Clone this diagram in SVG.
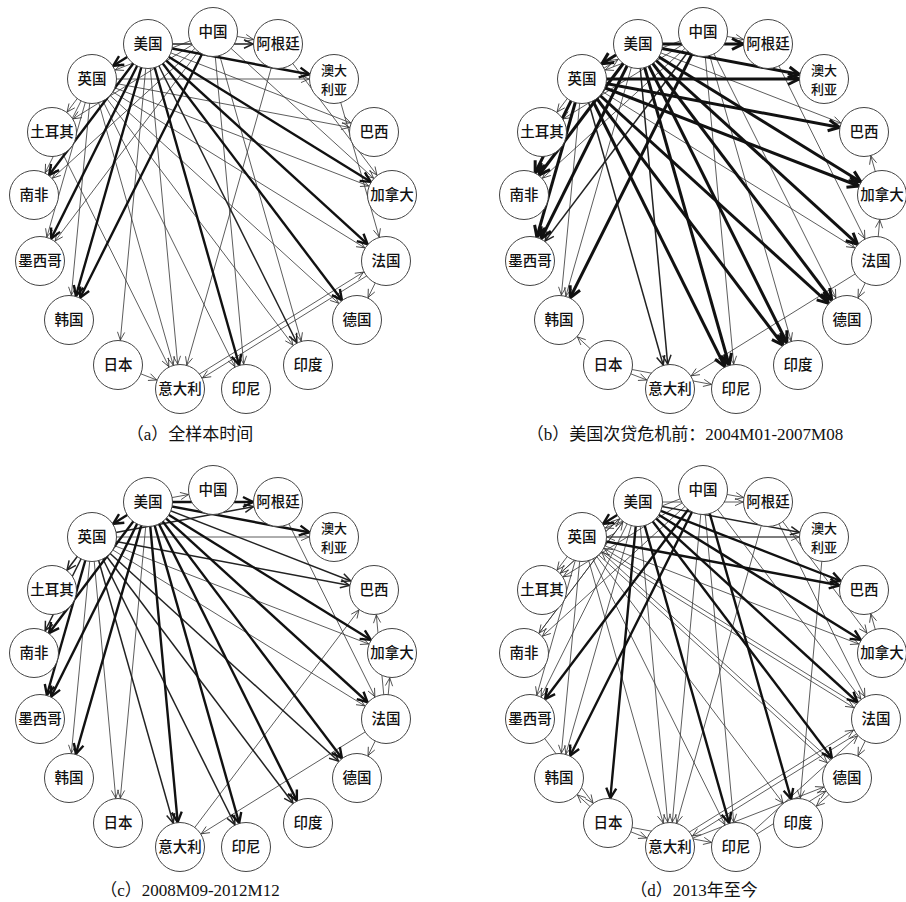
<svg xmlns="http://www.w3.org/2000/svg" width="906" height="902" viewBox="0 0 906 902">
<style>
.n circle{fill:#fff;stroke:#444;stroke-width:1}
.n text{font-family:"Noto Sans CJK SC","Noto Sans",sans-serif;font-size:14.5px;font-weight:500;text-anchor:middle;fill:#111}
.n text.s{font-size:13px}
line{fill:none}
.t{stroke:#333;stroke-width:0.8;marker-end:url(#mt)}
.m{stroke:#222;stroke-width:1.5;marker-end:url(#mm)}
.k{stroke:#111;stroke-width:2.4;marker-end:url(#mk)}
.K{stroke:#111;stroke-width:3;marker-end:url(#mK)}
.cap{font-family:"Liberation Serif","Noto Sans CJK SC",serif;font-size:17px;text-anchor:middle;fill:#111}
</style>
<defs>
<marker id="mt" markerUnits="userSpaceOnUse" orient="auto" refX="25" refY="0" markerWidth="1" markerHeight="1" overflow="visible"><path d="M-8,-3.6 L0,0 L-8,3.6" fill="none" stroke="#333" stroke-width="0.8"/></marker>
<marker id="mm" markerUnits="userSpaceOnUse" orient="auto" refX="25" refY="0" markerWidth="1" markerHeight="1" overflow="visible"><path d="M-9,-4.2 L0,0 L-9,4.2" fill="none" stroke="#222" stroke-width="1.5"/></marker>
<marker id="mk" markerUnits="userSpaceOnUse" orient="auto" refX="25" refY="0" markerWidth="1" markerHeight="1" overflow="visible"><path d="M-10,-5 L0,0 L-10,5" fill="none" stroke="#111" stroke-width="2.4"/></marker>
<marker id="mK" markerUnits="userSpaceOnUse" orient="auto" refX="25" refY="0" markerWidth="1" markerHeight="1" overflow="visible"><path d="M-11,-5.5 L0,0 L-11,5.5" fill="none" stroke="#111" stroke-width="3"/></marker>
</defs>

<!-- Panel a -->
<g id="panel-a">
<g id="a-edges">
<line class="t" x1="213" y1="32" x2="278" y2="44"/>
<line class="t" x1="148" y1="44" x2="374" y2="132"/>
<line class="t" x1="92" y1="79" x2="374" y2="132"/>
<line class="t" x1="92" y1="79" x2="334" y2="79"/>
<line class="t" x1="92" y1="79" x2="392" y2="195"/>
<line class="t" x1="213" y1="32" x2="392" y2="195"/>
<line class="t" x1="278" y1="44" x2="392" y2="195"/>
<line class="t" x1="92" y1="79" x2="52" y2="132"/>
<line class="t" x1="213" y1="32" x2="52" y2="132"/>
<line class="t" x1="92" y1="79" x2="34" y2="195"/>
<line class="t" x1="92" y1="79" x2="40" y2="261"/>
<line class="t" x1="213" y1="32" x2="40" y2="261"/>
<line class="t" x1="92" y1="79" x2="69" y2="320"/>
<line class="t" x1="148" y1="44" x2="118" y2="365"/>
<line class="t" x1="148" y1="44" x2="180" y2="389"/>
<line class="t" x1="92" y1="79" x2="180" y2="389"/>
<line class="t" x1="52" y1="132" x2="180" y2="389"/>
<line class="t" x1="118" y1="365" x2="180" y2="389"/>
<line class="t" x1="387.3" y1="263.1" x2="181.3" y2="391.1"/>
<line class="t" x1="178.7" y1="386.9" x2="384.7" y2="258.9"/>
<line class="t" x1="92" y1="79" x2="386" y2="261"/>
<line class="t" x1="92" y1="79" x2="357" y2="320"/>
<line class="t" x1="386" y1="261" x2="357" y2="320"/>
<line class="t" x1="213" y1="32" x2="308" y2="365"/>
<line class="t" x1="92" y1="79" x2="308" y2="365"/>
<line class="t" x1="213" y1="32" x2="246" y2="389"/>
<line class="t" x1="92" y1="79" x2="246" y2="389"/>
<line class="t" x1="278" y1="44" x2="180" y2="389"/>
<line class="t" x1="334" y1="79" x2="386" y2="261"/>
<line class="t" x1="213" y1="32" x2="92" y2="79"/>
<line class="t" x1="213" y1="32" x2="34" y2="195"/>
<line class="m" x1="148" y1="44" x2="278" y2="44"/>
<line class="m" x1="148" y1="44" x2="308" y2="365"/>
<line class="k" x1="148" y1="44" x2="92" y2="79"/>
<line class="k" x1="148" y1="44" x2="334" y2="79"/>
<line class="k" x1="148" y1="44" x2="392" y2="195"/>
<line class="k" x1="148" y1="44" x2="386" y2="261"/>
<line class="k" x1="148" y1="44" x2="357" y2="320"/>
<line class="k" x1="148" y1="44" x2="246" y2="389"/>
<line class="k" x1="148" y1="44" x2="69" y2="320"/>
<line class="k" x1="148" y1="44" x2="34" y2="195"/>
<line class="k" x1="148" y1="44" x2="40" y2="261"/>
<line class="k" x1="213" y1="32" x2="69" y2="320"/>
</g>
<g id="a-CN" class="n"><circle cx="213" cy="32" r="24.5"/><text x="213" y="37">中国</text></g>
<g id="a-AR" class="n"><circle cx="278" cy="44" r="24.5"/><text x="278" y="49">阿根廷</text></g>
<g id="a-AU" class="n"><circle cx="334" cy="79" r="24.5"/><text class="s" x="334" y="74.5">澳大<tspan x="334" dy="19">利亚</tspan></text></g>
<g id="a-BR" class="n"><circle cx="374" cy="132" r="24.5"/><text x="374" y="137">巴西</text></g>
<g id="a-CA" class="n"><circle cx="392" cy="195" r="24.5"/><text x="392" y="200">加拿大</text></g>
<g id="a-FR" class="n"><circle cx="386" cy="261" r="24.5"/><text x="386" y="266">法国</text></g>
<g id="a-DE" class="n"><circle cx="357" cy="320" r="24.5"/><text x="357" y="325">德国</text></g>
<g id="a-IN" class="n"><circle cx="308" cy="365" r="24.5"/><text x="308" y="370">印度</text></g>
<g id="a-ID" class="n"><circle cx="246" cy="389" r="24.5"/><text x="246" y="394">印尼</text></g>
<g id="a-IT" class="n"><circle cx="180" cy="389" r="24.5"/><text x="180" y="394">意大利</text></g>
<g id="a-JP" class="n"><circle cx="118" cy="365" r="24.5"/><text x="118" y="370">日本</text></g>
<g id="a-KR" class="n"><circle cx="69" cy="320" r="24.5"/><text x="69" y="325">韩国</text></g>
<g id="a-MX" class="n"><circle cx="40" cy="261" r="24.5"/><text x="40" y="266">墨西哥</text></g>
<g id="a-ZA" class="n"><circle cx="34" cy="195" r="24.5"/><text x="34" y="200">南非</text></g>
<g id="a-TR" class="n"><circle cx="52" cy="132" r="24.5"/><text x="52" y="137">土耳其</text></g>
<g id="a-UK" class="n"><circle cx="92" cy="79" r="24.5"/><text x="92" y="84">英国</text></g>
<g id="a-US" class="n"><circle cx="148" cy="44" r="24.5"/><text x="148" y="49">美国</text></g>
</g>

<!-- Panel b -->
<g id="panel-b" transform="translate(490,0)">
<g id="b-edges">
<line class="t" x1="213" y1="32" x2="278" y2="44"/>
<line class="t" x1="148" y1="44" x2="374" y2="132"/>
<line class="t" x1="392" y1="195" x2="374" y2="132"/>
<line class="t" x1="386" y1="261" x2="392" y2="195"/>
<line class="t" x1="92" y1="79" x2="52" y2="132"/>
<line class="t" x1="213" y1="32" x2="52" y2="132"/>
<line class="t" x1="92" y1="79" x2="69" y2="320"/>
<line class="t" x1="148" y1="44" x2="69" y2="320"/>
<line class="t" x1="118" y1="365" x2="69" y2="320"/>
<line class="t" x1="118" y1="365" x2="180" y2="389"/>
<line class="t" x1="118" y1="365" x2="246" y2="389"/>
<line class="t" x1="386" y1="261" x2="180" y2="389"/>
<line class="t" x1="213" y1="32" x2="246" y2="389"/>
<line class="t" x1="213" y1="32" x2="308" y2="365"/>
<line class="t" x1="386" y1="261" x2="357" y2="320"/>
<line class="t" x1="92" y1="79" x2="386" y2="261"/>
<line class="t" x1="278" y1="44" x2="386" y2="261"/>
<line class="t" x1="93.3" y1="81.1" x2="149.3" y2="46.1"/>
<line class="t" x1="213" y1="32" x2="92" y2="79"/>
<line class="t" x1="213" y1="32" x2="34" y2="195"/>
<line class="t" x1="213" y1="32" x2="357" y2="320"/>
<line class="m" x1="148" y1="44" x2="180" y2="389"/>
<line class="m" x1="92" y1="79" x2="180" y2="389"/>
<line class="m" x1="213" y1="32" x2="40" y2="261"/>
<line class="K" x1="146.7" y1="41.9" x2="90.7" y2="76.9"/>
<line class="K" x1="148" y1="44" x2="278" y2="44"/>
<line class="K" x1="148" y1="44" x2="334" y2="79"/>
<line class="K" x1="92" y1="79" x2="334" y2="79"/>
<line class="K" x1="92" y1="79" x2="374" y2="132"/>
<line class="K" x1="148" y1="44" x2="392" y2="195"/>
<line class="K" x1="92" y1="79" x2="392" y2="195"/>
<line class="K" x1="92" y1="79" x2="34" y2="195"/>
<line class="K" x1="148" y1="44" x2="34" y2="195"/>
<line class="K" x1="148" y1="44" x2="40" y2="261"/>
<line class="K" x1="92" y1="79" x2="40" y2="261"/>
<line class="K" x1="213" y1="32" x2="69" y2="320"/>
<line class="K" x1="148" y1="44" x2="386" y2="261"/>
<line class="K" x1="148" y1="44" x2="357" y2="320"/>
<line class="K" x1="92" y1="79" x2="357" y2="320"/>
<line class="K" x1="148" y1="44" x2="246" y2="389"/>
<line class="K" x1="92" y1="79" x2="246" y2="389"/>
<line class="K" x1="148" y1="44" x2="308" y2="365"/>
<line class="K" x1="92" y1="79" x2="308" y2="365"/>
</g>
<g id="b-CN" class="n"><circle cx="213" cy="32" r="24.5"/><text x="213" y="37">中国</text></g>
<g id="b-AR" class="n"><circle cx="278" cy="44" r="24.5"/><text x="278" y="49">阿根廷</text></g>
<g id="b-AU" class="n"><circle cx="334" cy="79" r="24.5"/><text class="s" x="334" y="74.5">澳大<tspan x="334" dy="19">利亚</tspan></text></g>
<g id="b-BR" class="n"><circle cx="374" cy="132" r="24.5"/><text x="374" y="137">巴西</text></g>
<g id="b-CA" class="n"><circle cx="392" cy="195" r="24.5"/><text x="392" y="200">加拿大</text></g>
<g id="b-FR" class="n"><circle cx="386" cy="261" r="24.5"/><text x="386" y="266">法国</text></g>
<g id="b-DE" class="n"><circle cx="357" cy="320" r="24.5"/><text x="357" y="325">德国</text></g>
<g id="b-IN" class="n"><circle cx="308" cy="365" r="24.5"/><text x="308" y="370">印度</text></g>
<g id="b-ID" class="n"><circle cx="246" cy="389" r="24.5"/><text x="246" y="394">印尼</text></g>
<g id="b-IT" class="n"><circle cx="180" cy="389" r="24.5"/><text x="180" y="394">意大利</text></g>
<g id="b-JP" class="n"><circle cx="118" cy="365" r="24.5"/><text x="118" y="370">日本</text></g>
<g id="b-KR" class="n"><circle cx="69" cy="320" r="24.5"/><text x="69" y="325">韩国</text></g>
<g id="b-MX" class="n"><circle cx="40" cy="261" r="24.5"/><text x="40" y="266">墨西哥</text></g>
<g id="b-ZA" class="n"><circle cx="34" cy="195" r="24.5"/><text x="34" y="200">南非</text></g>
<g id="b-TR" class="n"><circle cx="52" cy="132" r="24.5"/><text x="52" y="137">土耳其</text></g>
<g id="b-UK" class="n"><circle cx="92" cy="79" r="24.5"/><text x="92" y="84">英国</text></g>
<g id="b-US" class="n"><circle cx="148" cy="44" r="24.5"/><text x="148" y="49">美国</text></g>
</g>

<!-- Panel c -->
<g id="panel-c" transform="translate(0,458)">
<g id="c-edges">
<line class="t" x1="148" y1="44" x2="213" y2="32"/>
<line class="t" x1="92" y1="79" x2="334" y2="79"/>
<line class="t" x1="92" y1="79" x2="392" y2="195"/>
<line class="t" x1="386" y1="261" x2="374" y2="132"/>
<line class="t" x1="180" y1="389" x2="374" y2="132"/>
<line class="t" x1="386" y1="261" x2="392" y2="195"/>
<line class="t" x1="92" y1="79" x2="69" y2="320"/>
<line class="t" x1="92" y1="79" x2="118" y2="365"/>
<line class="t" x1="148" y1="44" x2="118" y2="365"/>
<line class="t" x1="386" y1="261" x2="180" y2="389"/>
<line class="t" x1="386" y1="261" x2="357" y2="320"/>
<line class="t" x1="92" y1="79" x2="386" y2="261"/>
<line class="t" x1="278" y1="44" x2="386" y2="261"/>
<line class="m" x1="92" y1="79" x2="278" y2="44"/>
<line class="m" x1="92" y1="79" x2="374" y2="132"/>
<line class="m" x1="148" y1="44" x2="374" y2="132"/>
<line class="m" x1="92" y1="79" x2="52" y2="132"/>
<line class="m" x1="92" y1="79" x2="34" y2="195"/>
<line class="m" x1="92" y1="79" x2="180" y2="389"/>
<line class="m" x1="92" y1="79" x2="246" y2="389"/>
<line class="m" x1="92" y1="79" x2="308" y2="365"/>
<line class="m" x1="92" y1="79" x2="357" y2="320"/>
<line class="k" x1="148" y1="44" x2="92" y2="79"/>
<line class="k" x1="148" y1="44" x2="278" y2="44"/>
<line class="k" x1="148" y1="44" x2="334" y2="79"/>
<line class="k" x1="148" y1="44" x2="392" y2="195"/>
<line class="k" x1="148" y1="44" x2="34" y2="195"/>
<line class="k" x1="92" y1="79" x2="40" y2="261"/>
<line class="k" x1="148" y1="44" x2="40" y2="261"/>
<line class="k" x1="148" y1="44" x2="69" y2="320"/>
<line class="k" x1="148" y1="44" x2="180" y2="389"/>
<line class="k" x1="148" y1="44" x2="246" y2="389"/>
<line class="k" x1="148" y1="44" x2="308" y2="365"/>
<line class="k" x1="148" y1="44" x2="357" y2="320"/>
<line class="k" x1="148" y1="44" x2="386" y2="261"/>
</g>
<g id="c-CN" class="n"><circle cx="213" cy="32" r="24.5"/><text x="213" y="37">中国</text></g>
<g id="c-AR" class="n"><circle cx="278" cy="44" r="24.5"/><text x="278" y="49">阿根廷</text></g>
<g id="c-AU" class="n"><circle cx="334" cy="79" r="24.5"/><text class="s" x="334" y="74.5">澳大<tspan x="334" dy="19">利亚</tspan></text></g>
<g id="c-BR" class="n"><circle cx="374" cy="132" r="24.5"/><text x="374" y="137">巴西</text></g>
<g id="c-CA" class="n"><circle cx="392" cy="195" r="24.5"/><text x="392" y="200">加拿大</text></g>
<g id="c-FR" class="n"><circle cx="386" cy="261" r="24.5"/><text x="386" y="266">法国</text></g>
<g id="c-DE" class="n"><circle cx="357" cy="320" r="24.5"/><text x="357" y="325">德国</text></g>
<g id="c-IN" class="n"><circle cx="308" cy="365" r="24.5"/><text x="308" y="370">印度</text></g>
<g id="c-ID" class="n"><circle cx="246" cy="389" r="24.5"/><text x="246" y="394">印尼</text></g>
<g id="c-IT" class="n"><circle cx="180" cy="389" r="24.5"/><text x="180" y="394">意大利</text></g>
<g id="c-JP" class="n"><circle cx="118" cy="365" r="24.5"/><text x="118" y="370">日本</text></g>
<g id="c-KR" class="n"><circle cx="69" cy="320" r="24.5"/><text x="69" y="325">韩国</text></g>
<g id="c-MX" class="n"><circle cx="40" cy="261" r="24.5"/><text x="40" y="266">墨西哥</text></g>
<g id="c-ZA" class="n"><circle cx="34" cy="195" r="24.5"/><text x="34" y="200">南非</text></g>
<g id="c-TR" class="n"><circle cx="52" cy="132" r="24.5"/><text x="52" y="137">土耳其</text></g>
<g id="c-UK" class="n"><circle cx="92" cy="79" r="24.5"/><text x="92" y="84">英国</text></g>
<g id="c-US" class="n"><circle cx="148" cy="44" r="24.5"/><text x="148" y="49">美国</text></g>
</g>

<!-- Panel d -->
<g id="panel-d" transform="translate(490,458)">
<g id="d-edges">
<line class="t" x1="213" y1="32" x2="278" y2="44"/>
<line class="t" x1="148" y1="44" x2="278" y2="44"/>
<line class="t" x1="92" y1="79" x2="334" y2="79"/>
<line class="t" x1="92" y1="79" x2="392" y2="195"/>
<line class="t" x1="392" y1="195" x2="374" y2="132"/>
<line class="t" x1="278" y1="44" x2="392" y2="195"/>
<line class="t" x1="92" y1="79" x2="52" y2="132"/>
<line class="t" x1="148" y1="44" x2="52" y2="132"/>
<line class="t" x1="213" y1="32" x2="52" y2="132"/>
<line class="t" x1="148" y1="44" x2="34" y2="195"/>
<line class="t" x1="213" y1="32" x2="34" y2="195"/>
<line class="t" x1="92" y1="79" x2="40" y2="261"/>
<line class="t" x1="148" y1="44" x2="40" y2="261"/>
<line class="t" x1="92" y1="79" x2="69" y2="320"/>
<line class="t" x1="148" y1="44" x2="69" y2="320"/>
<line class="t" x1="118" y1="365" x2="69" y2="320"/>
<line class="t" x1="92" y1="79" x2="180" y2="389"/>
<line class="t" x1="148" y1="44" x2="180" y2="389"/>
<line class="t" x1="213" y1="32" x2="180" y2="389"/>
<line class="t" x1="118" y1="365" x2="180" y2="389"/>
<line class="t" x1="387.3" y1="263.1" x2="181.3" y2="391.1"/>
<line class="t" x1="178.7" y1="386.9" x2="384.7" y2="258.9"/>
<line class="t" x1="92" y1="79" x2="246" y2="389"/>
<line class="t" x1="213" y1="32" x2="246" y2="389"/>
<line class="t" x1="118" y1="365" x2="246" y2="389"/>
<line class="t" x1="92" y1="79" x2="308" y2="365"/>
<line class="t" x1="334" y1="79" x2="308" y2="365"/>
<line class="t" x1="357" y1="320" x2="308" y2="365"/>
<line class="t" x1="90.7" y1="80.5" x2="355.7" y2="321.5"/>
<line class="t" x1="358.3" y1="318.5" x2="93.3" y2="77.5"/>
<line class="t" x1="180" y1="389" x2="357" y2="320"/>
<line class="t" x1="246" y1="389" x2="357" y2="320"/>
<line class="t" x1="246" y1="389" x2="386" y2="261"/>
<line class="t" x1="91" y1="80.7" x2="385" y2="262.7"/>
<line class="t" x1="387" y1="259.3" x2="93" y2="77.3"/>
<line class="t" x1="386" y1="261" x2="357" y2="320"/>
<line class="t" x1="278" y1="44" x2="386" y2="261"/>
<line class="t" x1="52" y1="132" x2="148" y2="44"/>
<line class="t" x1="34" y1="195" x2="148" y2="44"/>
<line class="t" x1="213" y1="32" x2="92" y2="79"/>
<line class="t" x1="278" y1="44" x2="180" y2="389"/>
<line class="t" x1="40" y1="261" x2="118" y2="365"/>
<line class="t" x1="334" y1="79" x2="92" y2="79"/>
<line class="t" x1="213" y1="32" x2="386" y2="261"/>
<line class="m" x1="148" y1="44" x2="334" y2="79"/>
<line class="k" x1="148" y1="44" x2="92" y2="79"/>
<line class="k" x1="92" y1="79" x2="374" y2="132"/>
<line class="k" x1="148" y1="44" x2="374" y2="132"/>
<line class="k" x1="148" y1="44" x2="392" y2="195"/>
<line class="k" x1="213" y1="32" x2="40" y2="261"/>
<line class="k" x1="213" y1="32" x2="69" y2="320"/>
<line class="k" x1="148" y1="44" x2="118" y2="365"/>
<line class="k" x1="148" y1="44" x2="246" y2="389"/>
<line class="k" x1="213" y1="32" x2="308" y2="365"/>
<line class="k" x1="148" y1="44" x2="357" y2="320"/>
<line class="k" x1="148" y1="44" x2="386" y2="261"/>
</g>
<g id="d-CN" class="n"><circle cx="213" cy="32" r="24.5"/><text x="213" y="37">中国</text></g>
<g id="d-AR" class="n"><circle cx="278" cy="44" r="24.5"/><text x="278" y="49">阿根廷</text></g>
<g id="d-AU" class="n"><circle cx="334" cy="79" r="24.5"/><text class="s" x="334" y="74.5">澳大<tspan x="334" dy="19">利亚</tspan></text></g>
<g id="d-BR" class="n"><circle cx="374" cy="132" r="24.5"/><text x="374" y="137">巴西</text></g>
<g id="d-CA" class="n"><circle cx="392" cy="195" r="24.5"/><text x="392" y="200">加拿大</text></g>
<g id="d-FR" class="n"><circle cx="386" cy="261" r="24.5"/><text x="386" y="266">法国</text></g>
<g id="d-DE" class="n"><circle cx="357" cy="320" r="24.5"/><text x="357" y="325">德国</text></g>
<g id="d-IN" class="n"><circle cx="308" cy="365" r="24.5"/><text x="308" y="370">印度</text></g>
<g id="d-ID" class="n"><circle cx="246" cy="389" r="24.5"/><text x="246" y="394">印尼</text></g>
<g id="d-IT" class="n"><circle cx="180" cy="389" r="24.5"/><text x="180" y="394">意大利</text></g>
<g id="d-JP" class="n"><circle cx="118" cy="365" r="24.5"/><text x="118" y="370">日本</text></g>
<g id="d-KR" class="n"><circle cx="69" cy="320" r="24.5"/><text x="69" y="325">韩国</text></g>
<g id="d-MX" class="n"><circle cx="40" cy="261" r="24.5"/><text x="40" y="266">墨西哥</text></g>
<g id="d-ZA" class="n"><circle cx="34" cy="195" r="24.5"/><text x="34" y="200">南非</text></g>
<g id="d-TR" class="n"><circle cx="52" cy="132" r="24.5"/><text x="52" y="137">土耳其</text></g>
<g id="d-UK" class="n"><circle cx="92" cy="79" r="24.5"/><text x="92" y="84">英国</text></g>
<g id="d-US" class="n"><circle cx="148" cy="44" r="24.5"/><text x="148" y="49">美国</text></g>
</g>

<g id="captions">
<text class="cap" x="190" y="440">（a）全样本时间</text>
<text class="cap" x="685" y="440">（b）美国次贷危机前：2004M01-2007M08</text>
<text class="cap" x="190" y="896">（c）2008M09-2012M12</text>
<text class="cap" x="694" y="896">（d）2013年至今</text>
</g>
</svg>
